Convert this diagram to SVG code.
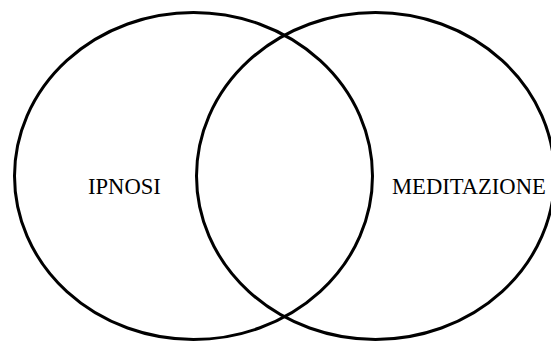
<svg xmlns="http://www.w3.org/2000/svg" width="551" height="347" viewBox="0 0 551 347">
<style>
.c{fill:none;stroke:#000;stroke-width:3}
.t{font-family:"Liberation Serif","Times New Roman",serif;font-size:22.6px;fill:#000}
</style>
<rect width="551" height="347" fill="#fff"/>
<g id="ipnosi">
<ellipse class="c" cx="193.5" cy="176" rx="179" ry="163.5"/>
<text class="t" x="88" y="194">IPNOSI</text>
</g>
<g id="meditazione">
<ellipse class="c" cx="375.5" cy="176" rx="179" ry="163.5"/>
<text class="t" x="392" y="194">MEDITAZIONE</text>
</g>
</svg>
